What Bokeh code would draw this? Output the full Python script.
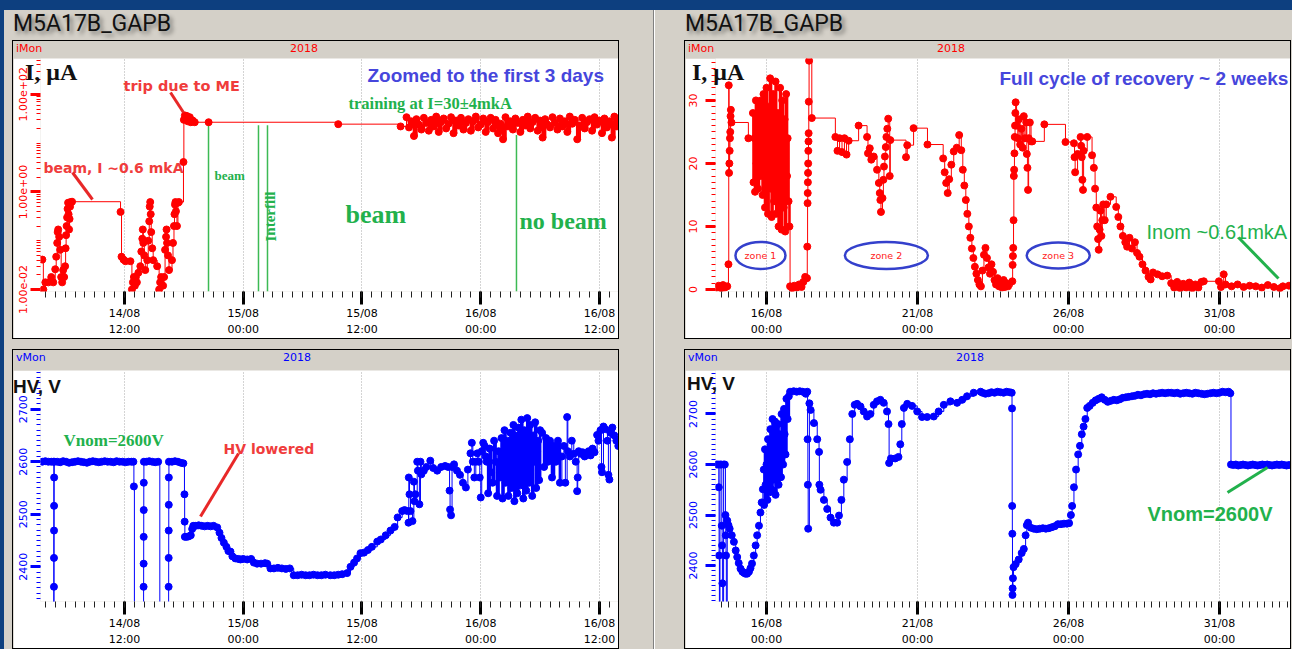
import pandas as pd
from bokeh.plotting import figure
from bokeh.models import (Div, Spacer, Label, Arrow, FixedTicker, SingleIntervalTicker,
                          CustomJSTickFormatter, Range1d, ColumnDataSource)
from bokeh.layouts import row, column
from bokeh.core.properties import value
from bokeh.embed import file_html
from bokeh.resources import INLINE

# ---------------------------------------------------------------- data
BASE = pd.Timestamp("2018-08-14 00:00:00")

# top-left: current (uA), hours since 14/08 00:00
tl_hours = [3.7, 3.8, 4.0, 4.3, 4.6, 4.8, 5.0, 5.1, 5.2, 5.25,
            5.3, 5.4, 5.5, 5.6, 5.7, 5.8, 5.9, 6.0, 6.05, 6.1,
            6.15, 6.2, 6.25, 6.3, 6.35, 6.4, 6.45, 6.5, 6.55, 6.7,
            11.6, 11.7, 11.9, 12.1, 12.6, 12.75, 12.85, 12.95, 13.05, 13.15,
            13.25, 13.4, 13.6, 13.7, 13.8, 13.85, 13.9, 14.0, 14.1, 14.3,
            14.4, 14.5, 14.55, 14.6, 14.65, 14.7, 14.8, 14.9, 15.3, 15.5,
            15.6, 15.7, 15.9, 16.0, 16.1, 16.2, 16.25, 16.3, 16.4, 16.5,
            16.8, 16.9, 17.0, 17.05, 17.1, 17.15, 17.2, 17.3, 17.4, 17.5,
            17.96, 18.0, 18.1, 18.2, 18.3, 18.4, 18.5, 18.6, 18.7, 18.9,
            19.1, 20.5, 33.6, 39.9]
tl_current = [0.041, 0.010, 0.014, 0.014, 0.018, 0.014, 0.026, 0.047, 0.090, 0.15,
              0.17, 0.12, 0.065, 0.018, 0.014, 0.025, 0.018, 0.030, 0.07, 0.13,
              0.20, 0.30, 0.45, 0.60, 0.35, 0.17, 0.28, 0.50, 0.62, 0.63,
              0.39, 0.047, 0.041, 0.038, 0.038, 0.010, 0.014, 0.018, 0.012, 0.018,
              0.014, 0.022, 0.030, 0.060, 0.110, 0.17, 0.090, 0.050, 0.025, 0.040,
              0.10, 0.25, 0.50, 0.62, 0.35, 0.15, 0.07, 0.04, 0.030, 0.010,
              0.014, 0.018, 0.012, 0.018, 0.065, 0.12, 0.17, 0.09, 0.05, 0.025,
              0.04, 0.09, 0.20, 0.35, 0.55, 0.62, 0.40, 0.20, 0.60, 0.62,
              4.1, 30, 37, 33, 36, 28, 31, 34, 26.8, 29,
              26.8, 26.8, 24.5, 22.0]
tl_train_hours = [40.5, 40.75, 41.0, 41.25, 41.5, 41.75, 42.0, 42.25, 42.5, 42.75,
                  43.0, 43.25, 43.5, 43.75, 44.0, 44.25, 44.5, 44.75, 45.0, 45.25,
                  45.5, 45.75, 46.0, 46.25, 46.5, 46.75, 47.0, 47.25, 47.5, 47.75,
                  48.0, 48.25, 48.5, 48.75, 49.0, 49.25, 49.5, 49.75, 50.0, 50.25,
                  50.5, 50.75, 51.0, 51.25, 51.5, 51.75, 52.0, 52.25, 52.5, 52.75,
                  53.0, 53.25, 53.5, 53.75, 54.0, 54.25, 54.5, 54.75, 55.0, 55.25,
                  55.5, 55.75, 56.0, 56.25, 56.5, 56.75, 57.0, 57.25, 57.5, 57.75,
                  58.0, 58.25, 58.5, 58.75, 59.0, 59.25, 59.5, 59.75, 60.0, 60.25,
                  60.5, 60.75, 61.0, 61.25, 61.5, 61.75]
tl_train_current = [34, 21, 28, 14, 31, 24, 19, 33, 26, 18,
                    30, 22, 35, 17, 27, 32, 20, 25, 34, 16,
                    29, 23, 33, 19, 26, 31, 18, 28, 35, 21,
                    24, 32, 17, 27, 33, 20, 30, 16, 25, 12,
                    34, 22, 28, 19, 32, 26, 17, 30, 23, 35,
                    20, 27, 33, 18, 29, 13, 31, 24, 21, 34,
                    26, 19, 32, 22, 28, 17, 35, 25, 30, 12,
                    23, 33, 20, 27, 31, 18, 34, 24, 29, 16,
                    32, 21, 28, 13, 35, 22]
# event markers (top-left): hours, top value
event_hours = [20.49, 25.54, 26.45, 51.61]
event_top = [26.8, 23.3, 23.3, 14.6]

# top-right: current (uA), days since 14/08 00:00
tr_days_a = [0.35, 0.42, 0.5, 0.56, 0.62, 0.7, 0.74, 0.75, 0.76, 0.77,
             0.78, 0.79, 0.80, 0.81, 0.82, 0.84, 1.4]
tr_cur_a = [0.3, 0.6, 0.2, 0.7, 0.3, 0.5, 4.0, 32.4, 18.5, 20.0,
            22.0, 24.0, 25.0, 27.5, 28.5, 26.5, 24.0]
tr_days_zone1 = [1.55, 1.57, 1.6, 1.62, 1.65, 1.67, 1.7, 1.72, 1.75, 1.77,
                 1.8, 1.82, 1.85, 1.87, 1.9, 1.92, 1.95, 1.97, 2.0, 2.02,
                 2.05, 2.07, 2.1, 2.12, 2.15, 2.17, 2.2, 2.22, 2.25, 2.27,
                 2.3, 2.32, 2.35, 2.37, 2.4, 2.42, 2.45, 2.47, 2.5, 2.52,
                 2.55, 2.57, 2.6, 2.62, 2.65, 2.68, 2.7, 2.73, 2.76]
tr_cur_zone1 = [28, 17, 24, 15.5, 30, 20, 26, 16, 29.5, 22,
                18, 30, 25, 15, 31, 19, 13, 27, 32, 21,
                12, 29, 24, 33.5, 16, 11.5, 26, 31, 14, 22,
                33, 12, 19, 28, 10, 25, 32, 15, 9.5, 30,
                21, 13, 27, 9.2, 31, 18, 24, 14, 10]
tr_days_b = [2.78, 2.85, 2.92, 3.0, 3.08, 3.16, 3.22, 3.28, 3.34, 3.35,
             3.36, 3.365, 3.37, 3.375, 3.38, 3.385, 3.39, 3.395, 3.4, 3.41,
             3.5, 4.28, 4.35, 4.42, 4.5, 4.58, 4.65, 4.72, 5.05, 5.33,
             5.36, 5.42, 5.47, 5.55, 5.66, 5.72, 5.75, 5.77, 5.79, 5.84,
             5.87, 5.89, 5.92, 5.95, 5.97, 6.0, 6.03, 6.08, 6.1, 6.62,
             6.66, 6.87, 7.33, 7.85, 7.9, 7.95, 8.0, 8.05, 8.12, 8.2,
             8.3, 8.38, 8.45, 8.5, 8.55, 8.6, 8.65, 8.7, 8.75, 8.8,
             8.85, 8.9, 8.95, 9.0, 9.05, 9.1]
tr_cur_b = [0.5, 0.2, 0.6, 0.3, 0.8, 0.4, 1.2, 2.0, 1.8, 6.8,
            13.7, 15.3, 17.0, 18.5, 20.0, 22.0, 23.5, 24.8, 29.8, 36.3,
            27.2, 24.2, 22.0, 24.0, 21.8, 24.0, 21.4, 23.6, 26.0, 24.2,
            21.6, 22.4, 20.6, 21.1, 19.0, 16.9, 15.3, 14.2, 12.3, 14.5,
            17.4, 19.5, 21.1, 22.6, 24.2, 25.5, 27.1, 18.0, 23.7, 21.0,
            22.9, 25.6, 23.0, 20.8, 18.6, 16.9, 15.3, 17.5, 19.8, 21.9,
            22.5, 24.5, 22.1, 19.0, 16.5, 14.2, 12.0, 10.0, 8.2, 6.5,
            5.0, 3.6, 2.5, 1.5, 0.8, 0.5]
tr_days_c = [9.15, 9.2, 9.25, 9.3, 9.35, 9.4, 9.45, 9.5, 9.55, 9.6,
             9.65, 9.7, 9.75, 9.8, 9.85, 9.9, 9.95, 10.0, 10.14, 10.15,
             10.16, 10.17, 10.18, 10.19, 10.2, 10.21, 10.22, 10.23, 10.24, 10.25,
             10.28, 10.32, 10.36, 10.4, 10.44, 10.48, 10.52, 10.56, 10.6, 10.62,
             10.64, 10.66, 10.68, 10.72, 10.76, 10.8, 11.2, 11.9, 12.18, 12.2,
             12.22, 12.3, 12.4, 12.42, 12.44, 12.46, 12.48, 12.5, 12.62, 12.78,
             12.84, 12.88, 12.92, 12.95, 12.98, 13.0, 13.03, 13.06, 13.09, 13.12,
             13.15, 13.2, 13.25, 13.39, 13.58, 13.65, 13.72, 13.8, 13.88, 13.94,
             14.02, 14.1, 14.2, 14.27, 14.35, 14.45, 14.55, 14.65, 14.72, 14.8,
             14.95, 15.1, 15.27, 15.4, 15.5, 15.6, 15.7, 15.8, 15.9, 16.0,
             16.1, 16.2, 16.3, 16.4, 16.48, 16.98, 17.05, 17.14, 17.2, 17.4,
             17.6, 17.8, 18.0, 18.2, 18.4, 18.6, 18.8, 19.0, 19.1, 19.3]
tr_cur_c = [3.0, 5.5, 6.6, 5.0, 3.5, 2.5, 4.0, 2.8, 1.5, 0.8,
            1.8, 0.5, 1.2, 0.3, 1.5, 0.4, 1.0, 0.5, 1.3, 3.9,
            5.3, 6.6, 11.0, 18.0, 19.0, 21.6, 24.2, 26.0, 28.0, 29.7,
            26.0, 24.0, 27.0, 23.0, 25.5, 22.5, 27.5, 24.0, 26.5, 21.5,
            19.3, 15.8, 24.0, 26.5, 23.5, 23.5, 26.2, 23.4, 23.2, 21.0,
            18.6, 21.5, 24.2, 22.8, 21.0, 17.4, 15.8, 22.0, 24.2, 21.3,
            19.3, 16.0, 13.0, 10.0, 8.0, 6.3, 9.5, 12.5, 8.5, 11.0,
            13.5, 11.0, 13.5, 14.7, 13.1, 11.5, 10.0, 8.5, 7.5, 6.8,
            8.2, 6.5, 7.5, 5.8, 5.2, 4.0, 3.0, 2.0, 1.6, 2.7,
            2.4, 2.1, 2.2, 1.0, 0.3, 1.2, 0.2, 0.9, 0.3, 1.1,
            0.2, 0.8, 0.3, 1.2, 1.3, 1.3, 0.4, 2.4, 0.8, 0.5,
            0.8, 0.4, 0.6, 0.5, 0.3, 0.7, 0.4, 0.2, 0.5, 0.6]
zone_names = ["zone 1", "zone 2", "zone 3"]
zone_days = [1.80, 5.97, 11.66]
zone_level = [5.4, 5.4, 5.4]

# bottom-left: HV (V), hours since 14/08 00:00
bl_hours_a = [3.7, 4.0, 4.3, 4.6, 4.84, 4.86, 4.87, 4.875, 4.88, 4.885,
              4.89, 4.9, 5.2, 5.5, 5.8, 6.1, 6.4, 6.7, 7.0, 7.3,
              7.6, 7.9, 8.2, 8.5, 8.8, 9.1, 9.4, 9.7, 10.0, 10.3,
              10.6, 10.9, 11.2, 11.5, 11.8, 12.1, 12.4, 12.7, 12.9, 12.95,
              13.0, 13.93, 13.935, 13.94, 13.945, 13.95, 13.96, 14.2, 14.5, 14.8,
              15.1, 15.4, 15.57, 16.46, 16.465, 16.47, 16.475, 16.48, 16.49, 16.8,
              17.1, 17.4, 17.7, 17.95, 18.06, 18.08, 18.1, 18.3, 18.5, 18.7,
              18.84, 18.95, 19.2, 19.5, 19.8, 20.1, 20.4, 20.7, 21.0, 21.37,
              21.6, 21.8, 22.04, 22.3, 22.5, 22.71, 22.9, 23.2, 23.5, 23.72,
              24.0, 24.4, 24.8, 25.07, 25.4, 25.8, 26.2, 26.42, 26.75, 27.1,
              27.5, 27.9, 28.3, 28.7, 29.1, 29.5, 29.9, 30.3, 30.7, 31.1,
              31.5, 31.9, 32.3, 32.8, 33.2, 33.6, 34.0, 34.5, 34.84, 35.2,
              35.5, 35.85, 36.2, 36.6, 37.0, 37.54, 37.9, 38.4, 38.88, 39.3,
              39.6, 40.06]
bl_hv_a = [2600, 2601, 2600, 2600, 2600, 2250, 2362, 2417, 2469, 2516,
           2570, 2600, 2600, 2599, 2601, 2600, 2598, 2599, 2600, 2601,
           2600, 2599, 2598, 2600, 2601, 2600, 2599, 2600, 2601, 2600,
           2600, 2599, 2601, 2600, 2600, 2599, 2600, 2600, 2600, 2553,
           2250, 2362, 2406, 2457, 2508, 2560, 2600, 2600, 2601, 2600,
           2599, 2600, 2250, 2362, 2417, 2469, 2518, 2570, 2600, 2600,
           2601, 2600, 2598, 2597, 2538, 2486, 2457, 2457, 2458, 2460,
           2472, 2478, 2478, 2479, 2478, 2477, 2478, 2477, 2478, 2475,
           2465, 2455, 2446, 2438, 2430, 2429, 2420, 2416, 2415, 2414,
           2415, 2414, 2415, 2408, 2406, 2406, 2407, 2406, 2397, 2397,
           2398, 2397, 2396, 2397, 2384, 2384, 2385, 2384, 2384, 2385,
           2384, 2384, 2385, 2384, 2384, 2385, 2386, 2388, 2400, 2408,
           2416, 2426, 2427, 2432, 2438, 2448, 2452, 2460, 2469, 2476,
           2494, 2506]
bl_hours_b = [40.3, 40.6, 40.7, 40.73, 40.8, 40.9, 41.1, 41.24, 41.3, 41.4,
              41.58, 41.65, 41.8, 41.91, 42.0, 42.25, 42.5, 42.9, 43.2, 43.6,
              44.0, 44.4, 44.7, 44.85, 44.9, 45.0, 45.1, 45.3, 45.6, 45.9,
              46.2, 46.5, 46.7, 46.96, 47.1, 47.2, 47.35, 47.5, 47.65, 47.8,
              47.9, 48.0, 48.1, 48.25, 48.4, 48.5]
bl_hv_b = [2508, 2506, 2484, 2570, 2538, 2506, 2487, 2562, 2525, 2538,
           2600, 2583, 2519, 2600, 2576, 2583, 2590, 2602, 2588, 2583,
           2590, 2592, 2590, 2545, 2509, 2498, 2590, 2595, 2583, 2575,
           2560, 2551, 2585, 2616, 2636, 2600, 2570, 2600, 2616, 2600,
           2570, 2532, 2620, 2636, 2630, 2610]
bl_hours_c = [48.6, 48.75, 48.9, 49.05, 49.2, 49.35, 49.5, 49.65, 49.8, 49.95,
              50.1, 50.2, 50.3, 50.4, 50.5, 50.6, 50.7, 50.8, 50.9, 51.0,
              51.1, 51.2, 51.3, 51.4, 51.5, 51.6, 51.7, 51.8, 51.9, 52.0,
              52.1, 52.2, 52.3, 52.4, 52.5, 52.6, 52.7, 52.8, 52.9, 53.0,
              53.1, 53.2, 53.3, 53.4, 53.5, 53.6, 53.7, 53.8, 53.9, 54.0,
              54.2, 54.4, 54.6, 54.8, 55.0, 55.2, 55.4, 55.6, 55.8, 56.0,
              56.2, 56.4, 56.55, 56.73, 56.8, 57.0, 57.2, 57.4, 57.6, 57.74,
              57.8, 57.9, 58.1, 58.3, 58.5, 58.7, 58.9, 59.1, 59.3, 59.5,
              59.76, 59.9, 60.1, 60.2, 60.25, 60.4, 60.6, 60.8, 60.9, 61.0,
              61.1, 61.3, 61.5, 61.7, 61.9]
bl_hv_c = [2600, 2540, 2625, 2580, 2560, 2640, 2600, 2535, 2620, 2570,
           2645, 2530, 2610, 2660, 2560, 2590, 2640, 2535, 2620, 2655,
           2550, 2600, 2670, 2525, 2650, 2580, 2540, 2665, 2610, 2555,
           2680, 2600, 2530, 2660, 2620, 2545, 2683, 2590, 2560, 2670,
           2630, 2535, 2650, 2600, 2675, 2550, 2620, 2640, 2565, 2660,
           2655, 2590, 2645, 2600, 2640, 2570, 2630, 2600, 2640, 2560,
           2610, 2630, 2560, 2685, 2620, 2610, 2640, 2615, 2600, 2544,
           2570, 2620, 2615, 2618, 2610, 2615, 2620, 2612, 2625, 2618,
           2651, 2640, 2660, 2590, 2580, 2667, 2662, 2640, 2575, 2566,
           2655, 2665, 2650, 2640, 2630]

# bottom-right: HV (V), days since 14/08 00:00
br_days_a = [0.35, 0.40, 0.42, 0.43, 0.44, 0.46, 0.5, 0.52, 0.53, 0.54,
             0.55, 0.58, 0.62, 0.64, 0.65, 0.66, 0.67, 0.7, 0.74, 0.78,
             0.85, 0.92, 0.98, 1.03, 1.08, 1.14, 1.2, 1.25, 1.3, 1.36,
             1.42, 1.47, 1.52, 1.58, 1.64, 1.69, 1.75, 1.8, 1.84, 1.88,
             1.91]
br_hv_a = [2600, 2600, 2555, 2420, 2300, 2600, 2600, 2479, 2440, 2365,
           2300, 2600, 2600, 2500, 2460, 2420, 2300, 2489, 2480, 2473,
           2460, 2447, 2430, 2417, 2405, 2394, 2388, 2386, 2384, 2384,
           2388, 2395, 2404, 2420, 2440, 2460, 2479, 2505, 2525, 2551,
           2590]
br_days_zone1 = [1.92, 1.95, 1.97, 2.0, 2.03, 2.05, 2.08, 2.1, 2.13, 2.15,
                 2.18, 2.2, 2.23, 2.25, 2.28, 2.3, 2.33, 2.35, 2.38, 2.4,
                 2.43, 2.45, 2.48, 2.5, 2.53, 2.55, 2.58, 2.6, 2.63, 2.66,
                 2.7, 2.74, 2.78]
br_hv_zone1 = [2520, 2630, 2560, 2600, 2530, 2650, 2580, 2545, 2670, 2610,
               2550, 2690, 2620, 2570, 2685, 2540, 2640, 2600, 2680, 2560,
               2660, 2620, 2575, 2700, 2640, 2600, 2710, 2660, 2620, 2730,
               2690, 2735, 2744]
br_days_b = [2.9, 3.0, 3.1, 3.2, 3.3, 3.35, 3.36, 3.37, 3.38, 3.42,
             3.46, 3.57, 3.68, 3.74, 3.75, 3.79, 3.9, 4.01, 4.12, 4.23,
             4.34, 4.4, 4.48, 4.56, 4.67, 4.76, 4.84, 4.92, 5.0, 5.11,
             5.22, 5.33, 5.44, 5.55, 5.66, 5.77, 5.88, 5.99, 6.04, 6.06,
             6.12, 6.26, 6.37, 6.43, 6.48, 6.55, 6.66, 6.82, 6.99, 7.15,
             7.32, 7.54, 7.7, 7.87, 8.09, 8.31, 8.48, 8.64, 8.86, 9.09]
br_hv_b = [2745, 2744, 2745, 2744, 2740, 2744, 2650, 2560, 2473, 2721,
           2708, 2682, 2650, 2625, 2560, 2550, 2530, 2512, 2495, 2485,
           2485, 2499, 2530, 2570, 2605, 2650, 2700, 2718, 2720, 2715,
           2705, 2695, 2700, 2718, 2725, 2728, 2722, 2705, 2680, 2603,
           2612, 2612, 2615, 2640, 2680, 2712, 2720, 2716, 2705, 2694,
           2694, 2695, 2705, 2718, 2725, 2722, 2728, 2735, 2742, 2744]
br_days_c = [9.15, 9.25, 9.35, 9.45, 9.55, 9.65, 9.75, 9.85, 9.95, 10.05,
             10.12, 10.13, 10.135, 10.14, 10.145, 10.15, 10.16, 10.18, 10.25, 10.35,
             10.45, 10.52, 10.58, 10.62, 10.66, 10.75, 10.85, 10.95, 11.05, 11.15,
             11.25, 11.35, 11.45, 11.55, 11.65, 11.75, 11.85, 11.95, 12.02, 12.08,
             12.12, 12.18, 12.25, 12.32, 12.38, 12.44, 12.5, 12.56, 12.62]
br_hv_c = [2742, 2740, 2741, 2743, 2742, 2744, 2743, 2742, 2744, 2743,
           2742, 2711, 2518, 2463, 2342, 2355, 2375, 2397, 2403, 2412,
           2425, 2433, 2460, 2480, 2485, 2475, 2473, 2472, 2473, 2474,
           2473, 2474, 2476, 2478, 2482, 2482, 2483, 2483, 2484, 2500,
           2518, 2555, 2590, 2620, 2637, 2660, 2675, 2690, 2712]
br_days_d = [12.7, 12.8, 12.9, 13.0, 13.1, 13.2, 13.3, 13.4, 13.5, 13.6,
             13.7, 13.8, 13.9, 14.0, 14.1, 14.2, 14.3, 14.4, 14.5, 14.6,
             14.7, 14.8, 14.9, 15.0, 15.1, 15.2, 15.3, 15.4, 15.5, 15.6,
             15.7, 15.8, 15.9, 16.0, 16.1, 16.2, 16.3, 16.4, 16.5, 16.6,
             16.7, 16.8, 16.9, 17.0, 17.1, 17.2, 17.3, 17.36, 17.38]
br_hv_d = [2716, 2722, 2727, 2730, 2733, 2728, 2724, 2726, 2728, 2727,
           2729, 2732, 2733, 2734, 2735, 2736, 2738, 2737, 2739, 2740,
           2739, 2741, 2740, 2741, 2742, 2741, 2742, 2742, 2741, 2742,
           2740, 2741, 2742, 2741, 2740, 2742, 2741, 2740, 2739, 2740,
           2741, 2742, 2741, 2742, 2744, 2743, 2744, 2741, 2600]
br_days_e = [17.46, 17.54, 17.62, 17.7, 17.78, 17.86, 17.94, 18.02, 18.1, 18.18,
             18.26, 18.34, 18.42, 18.5, 18.58, 18.66, 18.74, 18.82, 18.9, 18.98,
             19.06, 19.14, 19.22, 19.3]
br_hv_e = [2599, 2600, 2598, 2599, 2600, 2599, 2598, 2599, 2600, 2599,
           2598, 2599, 2600, 2599, 2600, 2599, 2598, 2599, 2600, 2599,
           2600, 2599, 2598, 2599]

# ---------------------------------------------------------------- helpers
GRAY = "#d4d0c8"
BLUE_BG = "#0d3f7f"
RED = "#ff0000"
BLUE = "#0000ff"
GREEN = "#22b14c"
RED_TXT = "#f03c3c"
PURPLE = "#4646dc"


def hdt(hs):
    return [(BASE + pd.Timedelta(hours=h)).to_pydatetime() for h in hs]


def ddt(ds):
    return [(BASE + pd.Timedelta(days=d)).to_pydatetime() for d in ds]


def ms(ts):
    return (ts - pd.Timestamp("1970-01-01")).total_seconds() * 1000.0


DATE_JS = """
const d = new Date(tick);
const p = (n) => (n < 10 ? "0" : "") + n;
return p(d.getUTCDate()) + "/" + p(d.getUTCMonth() + 1) + "\\n" + p(d.getUTCHours()) + ":" + p(d.getUTCMinutes());
"""
LOG_JS = """
const e = Math.round(Math.log10(tick));
const a = Math.abs(e);
return "1.00e" + (e < 0 ? "-" : "+") + (a < 10 ? "0" : "") + a;
"""

left_major = [ms(BASE + pd.Timedelta(hours=h)) for h in range(0, 73, 12)]
left_minor = [ms(BASE + pd.Timedelta(hours=h)) for h in range(0, 73, 1)]
right_major = [ms(BASE + pd.Timedelta(days=d)) for d in range(2, 22, 5)]
right_minor = [ms(BASE + pd.Timedelta(hours=h)) for h in range(0, 21 * 24, 6)]

left_xr = (BASE + pd.Timedelta(hours=3.512), BASE + pd.Timedelta(hours=61.92))
right_xr = (BASE + pd.Timedelta(days=0.311), BASE + pd.Timedelta(days=19.351))


def make_fig(xr, yr, ytype, left_b, h, bottom_b, color, xmaj, xmin, yticker, yformatter, standoff):
    p = figure(width=605, height=h,
               x_range=Range1d(xr[0].to_pydatetime(), xr[1].to_pydatetime()),
               y_range=Range1d(*yr), x_axis_type="datetime", y_axis_type=ytype,
               output_backend="svg", toolbar_location=None,
               min_border_left=left_b, min_border_right=0, min_border_top=0,
               min_border_bottom=bottom_b,
               background_fill_color="white", border_fill_color="white",
               outline_line_color=None)
    ax = p.xaxis[0]
    ax.ticker = FixedTicker(ticks=xmaj, minor_ticks=xmin)
    ax.formatter = CustomJSTickFormatter(code=DATE_JS)
    ax.axis_line_color = None
    ax.major_tick_line_color = "black"
    ax.major_tick_line_width = 3
    ax.major_tick_out = 13
    ax.major_tick_in = 0
    ax.minor_tick_line_color = "#222222"
    ax.minor_tick_out = 6
    ax.minor_tick_in = 0
    ax.major_label_text_font = "DejaVu Sans"
    ax.major_label_text_font_size = "11px"
    ax.major_label_text_color = "black"
    ax.major_label_standoff = 2
    ax.major_label_text_line_height = 1.25
    p.xgrid.ticker = FixedTicker(ticks=xmaj)
    p.xgrid.grid_line_color = "#a8a8a8"
    p.xgrid.grid_line_dash = "1 2"
    p.ygrid.visible = False
    ay = p.yaxis[0]
    ay.ticker = yticker
    if yformatter is not None:
        ay.formatter = yformatter
    ay.axis_line_color = None
    ay.major_tick_line_color = color
    ay.major_tick_line_width = 3
    ay.major_tick_out = 10
    ay.major_tick_in = 0
    ay.minor_tick_line_color = color
    ay.minor_tick_out = 4
    ay.minor_tick_in = 0
    ay.major_label_orientation = "vertical"
    ay.major_label_text_font = "DejaVu Sans"
    ay.major_label_text_font_size = "11px"
    ay.major_label_text_color = color
    ay.major_label_standoff = standoff
    return p


def add_label(p, fl, fb, x, y, text, font, size, color, style="bold", angle=0.0):
    p.add_layout(Label(x=x - fl, y=fb - y, x_units="screen", y_units="screen", text=text,
                       text_font=font, text_font_size=f"{size}px", text_color=color,
                       text_font_style=style, text_baseline="alphabetic", text_align="left",
                       angle=angle))


def add_pointer(p, fl, fb, x0, y0, x1, y1, color):
    p.add_layout(Arrow(end=None, x_start=x0 - fl, y_start=fb - y0, x_end=x1 - fl, y_end=fb - y1,
                       start_units="screen", end_units="screen", line_color=color, line_width=3))


def draw_series(p, t, v, color):
    src = ColumnDataSource(dict(t=t, v=v))
    p.step("t", "v", source=src, mode="after", line_color=color, line_width=1)
    p.scatter("t", "v", source=src, size=7, color=color)


def densify(p, t, v, color):
    # heavier stroke over the densely sampled stretches (the original is a solid smear there)
    p.step(t, v, mode="after", line_color=color, line_width=2.6)


# ---------------------------------------------------------------- top-left
log_minor = [k * 10.0 ** n for n in range(-3, 3) for k in range(1, 10)
             if not (k == 1 and n in (-2, 0, 2))]
p_tl = make_fig(left_xr, (0.0091, 543), "log", 27, 280, 46, RED, left_major, left_minor,
                FixedTicker(ticks=[0.01, 1, 100], minor_ticks=log_minor),
                CustomJSTickFormatter(code=LOG_JS), 3)
p_tl.segment(x0=hdt(event_hours), y0=[0.0091] * len(event_hours), x1=hdt(event_hours), y1=event_top,
             line_color="#3cba54", line_width=1.5)
draw_series(p_tl, hdt(tl_hours + tl_train_hours), tl_current + tl_train_current, RED)
densify(p_tl, hdt(tl_train_hours), tl_train_current, RED)
FL, FB = 40, 292
add_label(p_tl, FL, FB, 123, 86, "trip due to ME", "DejaVu Sans", 14.5, RED_TXT)
add_pointer(p_tl, FL, FB, 170, 93, 183, 113, "#e82828")
add_label(p_tl, FL, FB, 43, 168, "beam, I ~0.6 mkA", "DejaVu Sans", 14, RED_TXT)
add_pointer(p_tl, FL, FB, 72, 173, 92, 200, "#e82828")
add_label(p_tl, FL, FB, 214, 176, "beam", "Liberation Serif", 13, GREEN)
add_label(p_tl, FL, FB, 270, 242, "Interfill", "Liberation Serif", 15, GREEN, angle=1.5708)
add_label(p_tl, FL, FB, 348, 104, "training at I=30\u00b14mkA", "Liberation Serif", 16.5, GREEN)
add_label(p_tl, FL, FB, 367, 76, "Zoomed to the first 3 days", "Liberation Sans", 19, PURPLE)
add_label(p_tl, FL, FB, 345, 215, "beam", "Liberation Serif", 26, GREEN)
add_label(p_tl, FL, FB, 519, 221, "no beam", "Liberation Serif", 24, GREEN)

# ---------------------------------------------------------------- top-right
p_tr = make_fig(right_xr, (-0.32, 36.65), "linear", 30, 280, 46, RED, right_major, right_minor,
                SingleIntervalTicker(interval=10, num_minor_ticks=10), None, 8)
draw_series(p_tr, ddt(tr_days_a + tr_days_zone1 + tr_days_b + tr_days_c),
            tr_cur_a + tr_cur_zone1 + tr_cur_b + tr_cur_c, RED)
densify(p_tr, ddt(tr_days_zone1), tr_cur_zone1, RED)
p_tr.ellipse(x=ddt(zone_days), y=zone_level, width=[50, 83, 63], height=[27, 27, 26],
             width_units="screen", height_units="screen", fill_color=None,
             line_color="#3440cc", line_width=2.5)
p_tr.text(x=ddt(zone_days), y=zone_level, text=zone_names, text_font=value("DejaVu Sans"),
          text_font_size="9.5px", text_color="#ff2020", text_align="center", text_baseline="middle")
FL, FB = 715, 292
add_label(p_tr, FL, FB, 999, 79, "Full cycle of recovery ~ 2 weeks", "Liberation Sans", 19, PURPLE)
add_label(p_tr, FL, FB, 1146, 232, "Inom ~0.61mkA", "Liberation Sans", 20, GREEN, style="normal")
add_pointer(p_tr, FL, FB, 1238, 238, 1278, 279, GREEN)

# ---------------------------------------------------------------- bottom-left
p_bl = make_fig(left_xr, (2334, 2773.6), "linear", 27, 278, 45, BLUE, left_major, left_minor,
                SingleIntervalTicker(interval=100, num_minor_ticks=10), None, 3)
draw_series(p_bl, hdt(bl_hours_a + bl_hours_b + bl_hours_c), bl_hv_a + bl_hv_b + bl_hv_c, BLUE)
densify(p_bl, hdt(bl_hours_c[:60]), bl_hv_c[:60], BLUE)
FL, FB = 40, 603
add_label(p_bl, FL, FB, 63, 442, "Vnom=2600V", "Liberation Serif", 17, GREEN)
add_label(p_bl, FL, FB, 223, 450, "HV lowered", "DejaVu Sans", 14, RED_TXT)
add_pointer(p_bl, FL, FB, 238, 455, 200, 518, "#e82828")

# ---------------------------------------------------------------- bottom-right
p_br = make_fig(right_xr, (2329, 2786), "linear", 30, 278, 45, BLUE, right_major, right_minor,
                SingleIntervalTicker(interval=100, num_minor_ticks=10), None, 8)
draw_series(p_br, ddt(br_days_a + br_days_zone1 + br_days_b + br_days_c + br_days_d + br_days_e),
            br_hv_a + br_hv_zone1 + br_hv_b + br_hv_c + br_hv_d + br_hv_e, BLUE)
densify(p_br, ddt(br_days_zone1), br_hv_zone1, BLUE)
FL, FB = 715, 603
add_label(p_br, FL, FB, 1147, 515, "Vnom=2600V", "Liberation Sans", 20, GREEN)
add_pointer(p_br, FL, FB, 1227, 494, 1267, 469, GREEN)

# ---------------------------------------------------------------- layout
M0 = (0, 0, 0, 0)


def title_div():
    html = ('<div style="font-family:Roboto,\'DejaVu Sans\',sans-serif;font-size:23px;line-height:23px;'
            'padding-top:2px;color:#111;text-shadow:3px 3px 4px rgba(0,0,0,0.45);white-space:nowrap;">'
            'M5A17B_GAPB</div>')
    return Div(text=html, width=605, height=31, margin=M0)


def header_div(name, color, h, x2018, ylab, ylab_font, ylab_left, ylab_top):
    html = (f'<div style="position:relative;width:605px;height:{h}px;overflow:visible;'
            f'font-family:\'DejaVu Sans\';font-size:11px;line-height:13px;color:{color};">'
            f'<span style="position:absolute;left:3px;top:1px;">{name}</span>'
            f'<span style="position:absolute;left:{x2018}px;top:1px;">2018</span>'
            f'<span style="position:absolute;left:{ylab_left}px;top:{ylab_top}px;white-space:nowrap;'
            f'color:#111;font:{ylab_font};">{ylab}</span></div>')
    return Div(text=html, width=605, height=h, margin=M0,
               styles={"background-color": GRAY, "position": "relative", "z-index": "5",
                       "overflow": "visible"})


def box(header, fig, h_total):
    return column(header, fig, width=605, height=h_total,
                  spacing=0, styles={"outline": "1px solid #000000"})


SERIF_LAB = "bold 24px/24px 'Liberation Serif'"
SANS_LAB = "bold 19px/19px 'Liberation Sans'"

left_col = column(
    title_div(),
    box(header_div("iMon", RED, 17, 277, "I, \u03bcA", SERIF_LAB, 12, 19), p_tl, 297),
    Spacer(width=605, height=12),
    box(header_div("vMon", BLUE, 20, 270, "HV, V", SANS_LAB, 0, 27), p_bl, 298),
    Spacer(width=605, height=1), width=605, height=639, spacing=0)
right_col = column(
    title_div(),
    box(header_div("iMon", RED, 17, 252, "I, \u03bcA", SERIF_LAB, 7, 19), p_tr, 297),
    Spacer(width=605, height=12),
    box(header_div("vMon", BLUE, 20, 271, "HV, V", SANS_LAB, 2, 24), p_br, 298),
    Spacer(width=605, height=1), width=605, height=639, spacing=0)

div_dark = Div(text="", width=1, height=639, margin=M0, styles={"background-color": "#808080"})
div_light = Div(text="", width=1, height=639, margin=M0, styles={"background-color": "#ffffff"})

gray_row = row(Spacer(width=9, height=639), left_col, Spacer(width=35, height=639),
               div_dark, div_light, Spacer(width=30, height=639), right_col,
               Spacer(width=2, height=639), width=1288, height=639, spacing=0,
               styles={"background-color": GRAY})
blue_top = Div(text="", width=1292, height=10, margin=M0, styles={"background-color": BLUE_BG})
blue_left = Div(text="", width=4, height=639, margin=M0, styles={"background-color": BLUE_BG})
root = column(blue_top, row(blue_left, gray_row, width=1292, height=639, spacing=0),
              width=1292, height=649, spacing=0)

open("out.html", "w").write(file_html(root, INLINE))
